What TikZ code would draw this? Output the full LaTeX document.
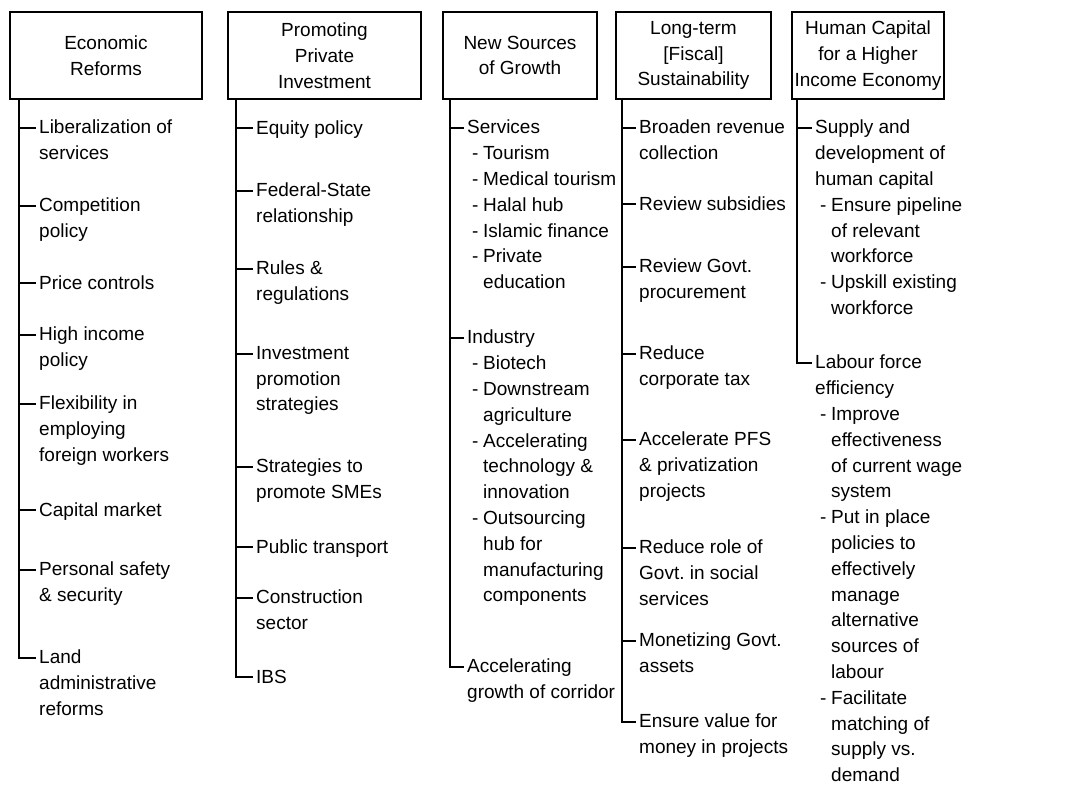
\documentclass[tikz,border=0pt]{standalone}
\usepackage{fontspec}
\setmainfont{Liberation Sans}
\usepackage{tikz}
\newcommand{\entryfont}{\fontsize{19}{25.8}\selectfont}
\newcommand{\dashln}[1]{\makebox[16pt][c]{-}#1}
\newcommand{\contln}[1]{\hspace*{16pt}#1}
\tikzset{head node/.style={rectangle,draw,line width=1.6pt,minimum width=#1,minimum height=87pt,inner sep=0pt,align=center,font=\entryfont},}
\tikzstyle{entry} = [anchor=north west,inner sep=0pt,align=left,font=\entryfont,execute at begin node=\rule{0pt}{14pt}]
\tikzstyle{tick} = [line width=1.6pt]

\begin{document}
\begin{tikzpicture}[x=1pt,y=-1pt]
\useasboundingbox (0,0) rectangle (1083,787);
% header boxes
\node[head node=192pt] (econ)   at (106,55.5)   {Economic\\Reforms};
\node[head node=193pt] (invest) at (324.5,55.5) {Promoting\\Private\\Investment};
\node[head node=154pt] (growth) at (520,55.5)   {New Sources\\of Growth};
\node[head node=155pt] (fiscal) at (693.5,55.5) {Long-term\\{[Fiscal]}\\Sustainability};
\node[head node=152pt] (human)  at (868,55.5)   {Human Capital\\for a Higher\\Income Economy};

% economic reforms
\node[entry] (liber)   at (39,120) {Liberalization of\\services};
\node[entry] (compet)  at (39,198) {Competition\\policy};
\node[entry] (price)   at (39,275) {Price controls};
\node[entry] (highinc) at (39,327) {High income\\policy};
\node[entry] (flex)    at (39,396) {Flexibility in\\employing\\foreign workers};
\node[entry] (capmkt)  at (39,502) {Capital market};
\node[entry] (safety)  at (39,562) {Personal safety\\\& security};
\node[entry] (land)    at (39,650) {Land\\administrative\\reforms};

% private investment
\node[entry] (equity)    at (256,120) {Equity policy};
\node[entry] (fedstate)  at (256,183) {Federal-State\\relationship};
\node[entry] (rules)     at (256,261) {Rules \&\\regulations};
\node[entry] (invprom)   at (256,346) {Investment\\promotion\\strategies};
\node[entry] (smes)      at (256,459) {Strategies to\\promote SMEs};
\node[entry] (transport) at (256,539) {Public transport};
\node[entry] (constr)    at (256,590) {Construction\\sector};
\node[entry] (ibs)       at (256,669) {IBS};

% sources of growth
\node[entry] (services) at (467,120) {Services\\\dashln{Tourism}\\\dashln{Medical tourism}\\\dashln{Halal hub}\\\dashln{Islamic finance}\\\dashln{Private}\\\contln{education}};
\node[entry] (industry) at (467,330) {Industry\\\dashln{Biotech}\\\dashln{Downstream}\\\contln{agriculture}\\\dashln{Accelerating}\\\contln{technology \&}\\\contln{innovation}\\\dashln{Outsourcing}\\\contln{hub for}\\\contln{manufacturing}\\\contln{components}};
\node[entry] (corridor) at (467,659) {Accelerating\\growth of corridor};

% fiscal sustainability
\node[entry] (revenue) at (639,120) {Broaden revenue\\collection};
\node[entry] (subsid)  at (639,196) {Review subsidies};
\node[entry] (procure) at (639,259) {Review Govt.\\procurement};
\node[entry] (corptax) at (639,346) {Reduce\\corporate tax};
\node[entry] (pfs)     at (639,432) {Accelerate PFS\\\& privatization\\projects};
\node[entry] (socserv) at (639,540) {Reduce role of\\Govt.\ in social\\services};
\node[entry] (assets)  at (639,633) {Monetizing Govt.\\assets};
\node[entry] (value)   at (639,714) {Ensure value for\\money in projects};

% human capital
\node[entry] (supply) at (815,120) {Supply and\\development of\\human capital\\\dashln{Ensure pipeline}\\\contln{of relevant}\\\contln{workforce}\\\dashln{Upskill existing}\\\contln{workforce}};
\node[entry] (labour) at (815,355) {Labour force\\efficiency\\\dashln{Improve}\\\contln{effectiveness}\\\contln{of current wage}\\\contln{system}\\\dashln{Put in place}\\\contln{policies to}\\\contln{effectively}\\\contln{manage}\\\contln{alternative}\\\contln{sources of}\\\contln{labour}\\\dashln{Facilitate}\\\contln{matching of}\\\contln{supply vs.}\\\contln{demand}};

% trunks
\coordinate (t1) at ([xshift=10pt]econ.south west);
\coordinate (t2) at ([xshift=9pt]invest.south west);
\coordinate (t3) at ([xshift=8pt]growth.south west);
\coordinate (t4) at ([xshift=7pt]fiscal.south west);
\coordinate (t5) at ([xshift=6pt]human.south west);
\draw[tick] (t1) |- ([xshift=-3pt,yshift=-8pt]land.north west);
\draw[tick] (t2) |- ([xshift=-3pt,yshift=-8pt]ibs.north west);
\draw[tick] (t3) |- ([xshift=-3pt,yshift=-8pt]corridor.north west);
\draw[tick] (t4) |- ([xshift=-3pt,yshift=-8pt]value.north west);
\draw[tick] (t5) |- ([xshift=-3pt,yshift=-8pt]labour.north west);

% ticks
\foreach \n/\t in {liber/t1,compet/t1,price/t1,highinc/t1,flex/t1,capmkt/t1,safety/t1,
    equity/t2,fedstate/t2,rules/t2,invprom/t2,smes/t2,transport/t2,constr/t2,
    services/t3,industry/t3,
    revenue/t4,subsid/t4,procure/t4,corptax/t4,pfs/t4,socserv/t4,assets/t4,
    supply/t5}
  \draw[tick] ([yshift=-8pt]\n.north west -| \t) -- ([xshift=-3pt,yshift=-8pt]\n.north west);
\end{tikzpicture}
\end{document}
